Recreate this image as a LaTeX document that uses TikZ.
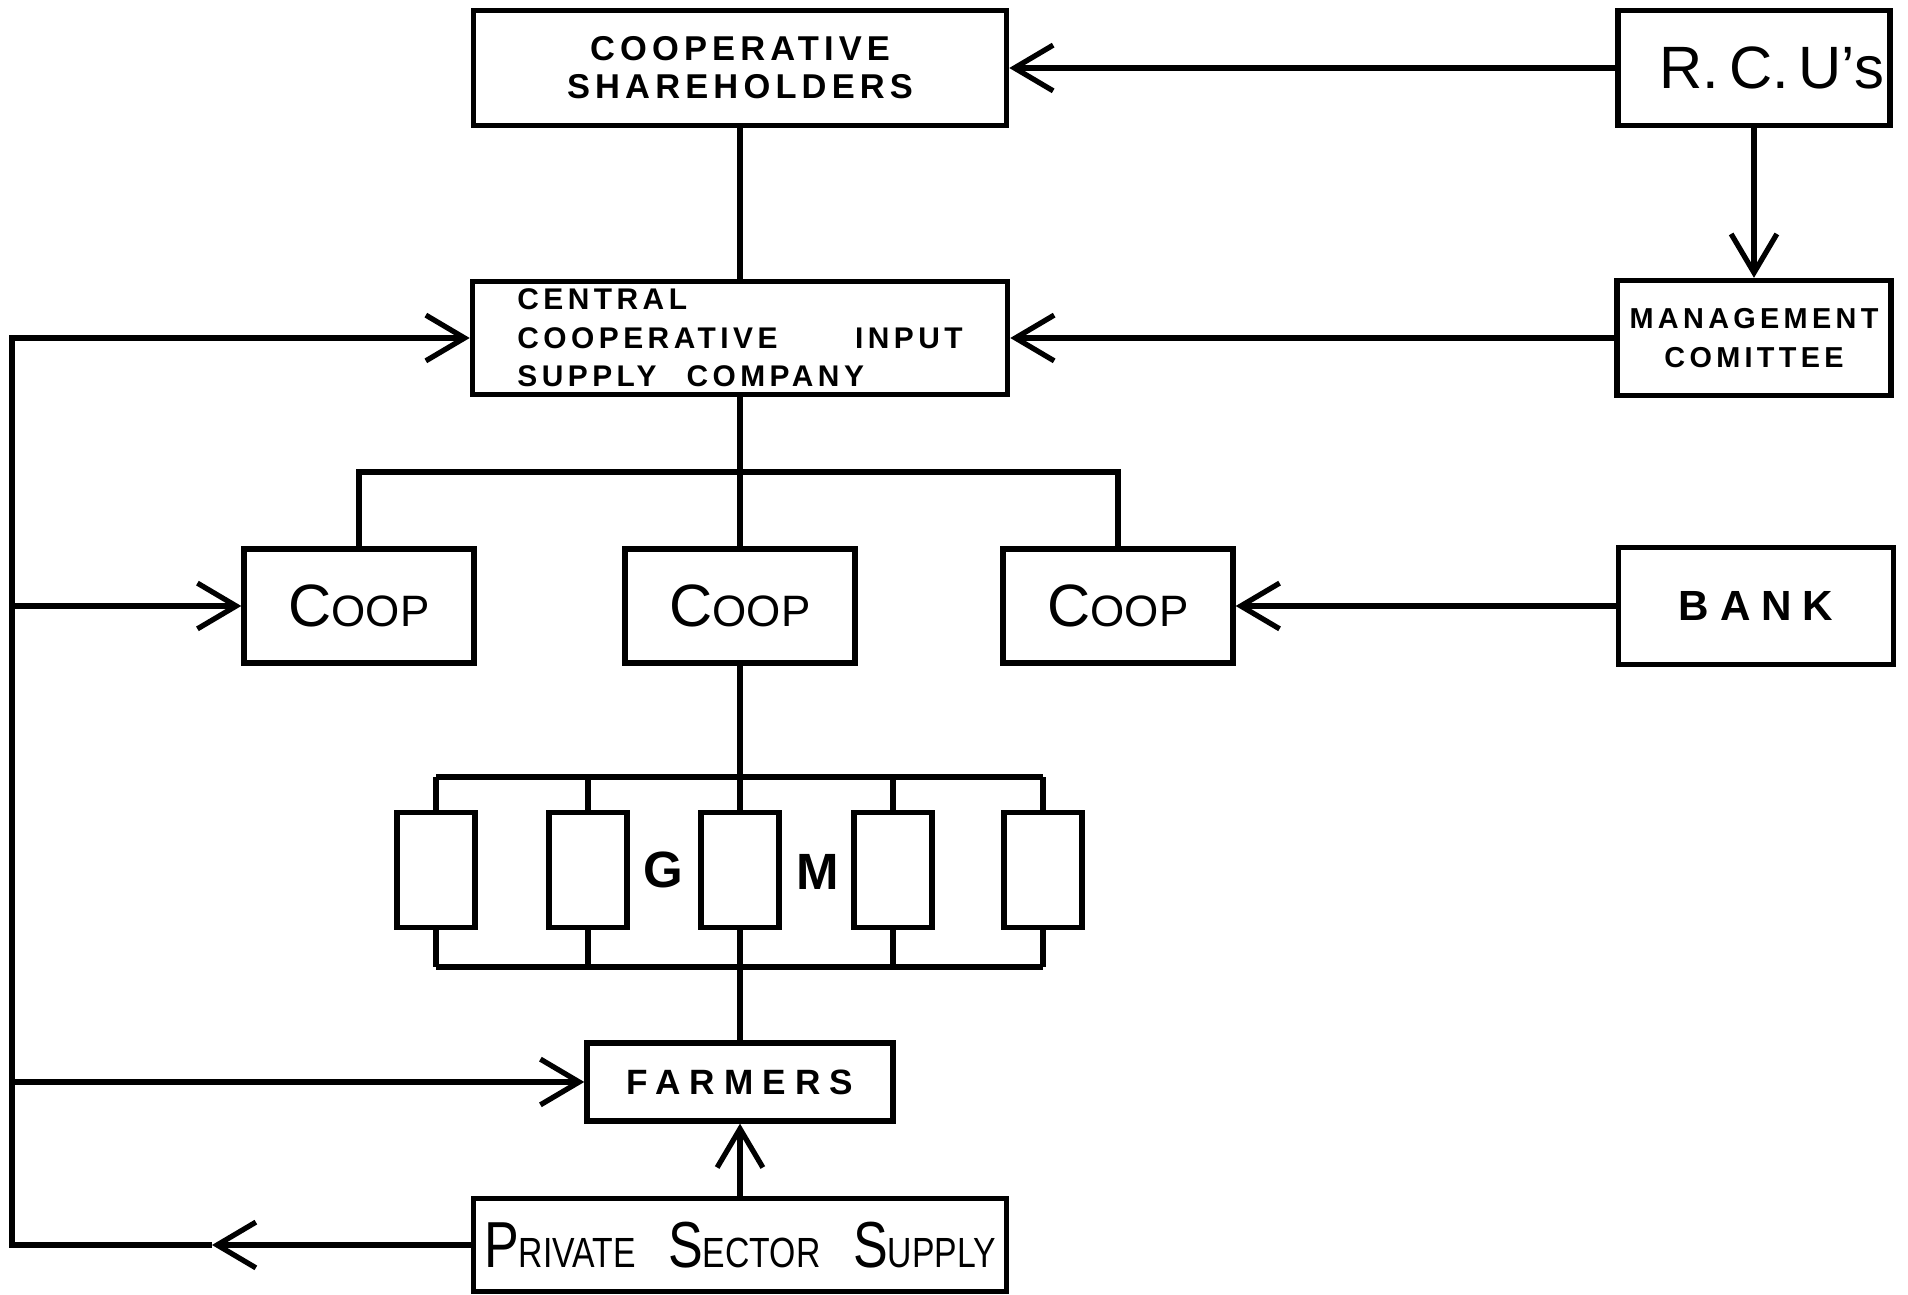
\documentclass[tikz,border=0pt]{standalone}
\usepackage{fontspec}
\setmainfont{Liberation Sans}
\newfontfamily\hand[LetterSpace=15]{Liberation Sans}
\newfontfamily\handwide[LetterSpace=26]{Liberation Sans}
\newfontfamily\handnarrow[FakeStretch=0.8]{Liberation Sans}
\newcommand{\sm}[2][12.5]{{\fontsize{#1}{14}\selectfont #2}}
\usetikzlibrary{arrows.meta}

\begin{document}
\begin{tikzpicture}[x=0.01cm,y=-0.01cm,
            box/.style={draw,line width=1.5pt,inner sep=0pt},
            link/.style={line width=1.5pt},
            arr/.style={link,-{Straight Barb[length=11pt,width=13pt]}},
            coop/.style={box,minimum width=2.3cm,minimum height=1.14cm,font=\fontsize{17}{20}\selectfont},
            cell/.style={box,minimum width=0.78cm,minimum height=1.15cm}]
            \useasboundingbox (0,0) rectangle (1908,1295);
            \node[box,minimum width=5.33cm,minimum height=1.15cm,align=center,
                font=\hand\bfseries\fontsize{9.8}{10.8}\selectfont] (share) at (740,68) {COOPERATIVE\\SHAREHOLDERS};
            \node[box,minimum width=2.72cm,minimum height=1.15cm,text width=2.6cm,inner xsep=0.06cm,align=right,
                font=\fontsize{17}{19}\selectfont] (rcu) at (1754,68) {R.\,C.\,U's};
            \node[box,minimum width=2.74cm,minimum height=1.15cm,align=center,
                font=\hand\bfseries\fontsize{8.2}{11}\selectfont] (mgmt) at (1754,338) {MANAGEMENT\\COMITTEE};
            \node[box,minimum width=5.35cm,minimum height=1.13cm,text width=4.45cm,inner xsep=0.45cm,align=left,
                font=\hand\bfseries\fontsize{8.5}{11}\selectfont] (cen) at (740,338) {CENTRAL\\COOPERATIVE\hfill INPUT\\SUPPLY\quad COMPANY};
            \node[coop] (coopL) at (359,606) {C\sm{OOP}};
            \node[coop] (coopM) at (740,606) {C\sm{OOP}};
            \node[coop] (coopR) at (1118,606) {C\sm{OOP}};
            \node[box,minimum width=2.75cm,minimum height=1.17cm,font=\handwide\bfseries\fontsize{12}{14}\selectfont] (bank) at (1756,606) {BANK};
            \foreach \i/\x in {1/436,2/588,3/740,4/893,5/1043}
                \node[cell] (g\i) at (\x,870) {};
            \node[font=\bfseries\fontsize{14.5}{16}\selectfont] (glab) at (663,870) {G};
            \node[font=\bfseries\fontsize{14.5}{16}\selectfont] (mlab) at (818,872) {M};
            \node[box,minimum width=3.06cm,minimum height=0.78cm,font=\handwide\bfseries\fontsize{10}{12}\selectfont] (farmers) at (740,1082) {FARMERS};
            \node[box,minimum width=5.32cm,minimum height=0.93cm,font=\handnarrow\fontsize{18.5}{22}\selectfont] (pss) at (740,1245)
                {P\sm[12]{RIVATE}\enspace S\sm[12]{ECTOR}\enspace S\sm[12]{UPPLY}};

            \coordinate (cbus) at (740,472);
            \coordinate (gtop) at (740,777);
            \coordinate (gbot) at (740,967);
            \coordinate (spine) at (12,0);
            \coordinate (back) at (212,1245);

            \draw[arr] (rcu.west) -- (share.east);
            \draw[arr] (rcu.south) -- (mgmt.north);
            \draw[arr] (mgmt.west) -- (cen.east);
            \draw[arr] (bank.west) -- (coopR.east);
            \draw[link] (share.south) -- (cen.north);
            \draw[link] (cen.south) -- (coopM.north);
            \draw[link] (coopL.north) -- (coopL.north |- cbus) -- (coopR.north |- cbus) -- (coopR.north);
            \draw[link] (coopM.south) -- (g3.north);
            \draw[link] (g1.north |- gtop) -- (g5.north |- gtop);
            \draw[link] (g1.south |- gbot) -- (g5.south |- gbot);
            \foreach \i in {1,...,5} {
                \draw[link] (g\i.north) -- (g\i.north |- gtop);
                \draw[link] (g\i.south) -- (g\i.south |- gbot);
            }
            \draw[link] (g3.south) -- (farmers.north);
            \draw[arr] (pss.north) -- (farmers.south);
            \draw[arr] (pss.west) -- (back);
            \draw[arr] (back) -- (spine |- pss.west) -- (spine |- cen.west) -- (cen.west);
            \draw[arr] (spine |- coopL.west) -- (coopL.west);
            \draw[arr] (spine |- farmers.west) -- (farmers.west);
        \end{tikzpicture}
\end{document}
